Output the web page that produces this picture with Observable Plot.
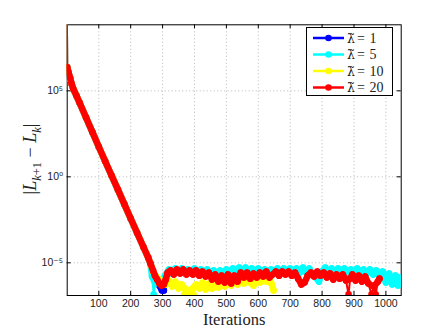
<!DOCTYPE html>
<html><head><meta charset="utf-8">
<script src="https://cdn.jsdelivr.net/npm/d3@7"></script>
<script src="https://cdn.jsdelivr.net/npm/@observablehq/plot@0.6"></script>
<style>
body{margin:0;background:#fff;}
#wrap{position:relative;width:442px;height:332px;overflow:hidden;}
#legend{position:absolute;left:306px;top:27px;}
</style></head>
<body><div id="wrap"><svg id="legend" width="88" height="70"></svg></div>
<script>
// ---- data ----
const xTicks = [100, 200, 300, 400, 500, 600, 700, 800, 900, 1000];
const yTicks = [1e-5, 1, 1e5];
const yTickLabels = ["10\u207B\u2075", "10\u2070", "10\u2075"];
const seriesSymbol = "\u03BB\u0303";
const seriesLambda = ["1", "5", "10", "20"];
const seriesColors = ["#0000ff", "#00ffff", "#ffff00", "#ff0000"];

// shared descent (all four runs overlap here)
const descentIter  = [0, 1, 5, 10, 15, 20, 30, 40, 60, 80, 100, 120, 140, 160, 180, 200, 220, 240, 255, 262];
const descentValue = [1e10, 2.3e6, 1.2e6, 5.6e5, 2.5e5, 1.3e5, 5.2e4, 2e4, 2.8e3, 400, 56, 8, 1.2, 0.18, 0.026, 3.8e-3, 5.6e-4, 8.3e-5, 2e-5, 9.1e-6];

const blueIter  = [270, 280, 290, 298, 304];
const blueValue = [2.7e-6, 1.07e-6, 4.8e-7, 2.5e-7, 2.5e-7];

const cyanIter  = [267, 272, 277, 284, 292, 300, 310,
  320, 330, 340, 350, 360, 370, 380, 390, 400, 410, 420, 430, 440, 450, 460, 470, 480, 490, 500,
  510, 520, 530, 540, 550, 560, 570, 580, 590, 600, 610, 620, 630, 640, 650, 660, 670, 680, 690, 700,
  710, 720, 730, 740, 750, 760, 770, 780, 790, 800, 810, 820, 830, 840, 850, 860, 870, 880, 890, 900,
  910, 920, 930, 940, 950, 960, 970, 980, 990, 1000, 1010, 1020, 1030, 1038, 1044, 1048];
const cyanValue = [1.6e-6, 1.5e-7, 6.3e-7, 1.07e-6, 6.3e-7, 1.07e-6, 2.1e-6,
  4.1e-6, 2.4e-6, 4.7e-6, 2.7e-6, 4.7e-6, 2.4e-6, 4.1e-6, 2.7e-6, 4.7e-6, 2.4e-6, 4.1e-6, 2.1e-6, 4.1e-6, 2.1e-6, 3.6e-6, 1.8e-6, 3.6e-6, 1.8e-6, 4.1e-6,
  2.1e-6, 4.7e-6, 2.4e-6, 5.3e-6, 2.7e-6, 5.3e-6, 2.7e-6, 4.7e-6, 2.4e-6, 4.7e-6, 2.7e-6, 4.1e-6, 2.4e-6, 4.1e-6, 2.7e-6, 4.7e-6, 2.7e-6, 4.7e-6, 2.7e-6, 4.7e-6,
  2.4e-6, 4.7e-6, 2.7e-6, 5.3e-6, 2.7e-6, 4.7e-6, 2.1e-6, 1.4e-6, 8.1e-7, 3.1e-6, 5.3e-6, 2.7e-6, 4.7e-6, 2.4e-6, 4.7e-6, 2.7e-6, 4.7e-6, 2.4e-6, 4.1e-6, 2.4e-6,
  4.7e-6, 2.7e-6, 4.1e-6, 2.4e-6, 4.1e-6, 2.1e-6, 3.6e-6, 1.8e-6, 3.1e-6, 7.1e-7, 2.4e-6, 5.5e-7, 1.8e-6, 4.8e-7, 1.4e-6, 6.3e-7];

const yellowIter  = [270, 280, 290, 300, 310, 320, 330, 340, 350, 360, 368, 375, 382, 390, 397, 405, 415, 425, 435, 445,
  455, 465, 475, 485, 495, 505, 515, 525, 535, 545, 555, 565, 575, 585, 595, 605, 615, 625, 635, 641, 648];
const yellowValue = [3.1e-6, 1.6e-6, 1.07e-6, 8.1e-7, 5.5e-7, 9.3e-7, 4.2e-7, 8.1e-7, 3.2e-7, 5.5e-7, 1.5e-7, 2.5e-7, 1.5e-7, 2.8e-7, 1.5e-7, 5.5e-7, 3.2e-7, 7.1e-7, 2.8e-7, 6.3e-7,
  3.2e-7, 8.1e-7, 3.7e-7, 9.3e-7, 4.2e-7, 1.07e-6, 4.8e-7, 1.07e-6, 5.5e-7, 1.4e-6, 6.3e-7, 1.6e-6, 7.1e-7, 4.8e-7, 1.2e-6, 7.1e-7, 1.6e-6, 8.1e-7, 1.4e-6, 6.3e-7, 2.5e-7];

const redIter  = [270, 276, 283, 290, 297, 304, 310, 316,
  325, 335, 345, 355, 365, 375, 385, 395, 405, 415, 425, 435, 445, 455, 465, 475, 485, 495, 505, 515, 525, 535,
  545, 555, 565, 575, 585, 595, 605, 615, 625, 635, 645, 655, 665, 675, 685, 695, 705, 715, 725, 735, 745, 755,
  765, 775, 785, 795, 805, 815, 825, 835, 845, 855, 865, 875, 883, 888, 895, 905, 915, 925, 935, 945, 955, 962, 968, 975, 980];
const redValue = [3.6e-6, 1.8e-6, 1.07e-6, 6.3e-7, 4.8e-7, 5.5e-7, 1.07e-6, 2.7e-6,
  3.6e-6, 2.1e-6, 4.1e-6, 2.4e-6, 4.1e-6, 2.1e-6, 3.6e-6, 2.1e-6, 3.6e-6, 1.8e-6, 3.1e-6, 1.6e-6, 2.7e-6, 1.07e-6, 2.1e-6, 8.1e-7, 1.8e-6, 7.1e-7, 2.1e-6, 6.3e-7, 1.8e-6, 8.1e-7,
  2.7e-6, 1.4e-6, 2.7e-6, 1.2e-6, 2.4e-6, 1.4e-6, 2.7e-6, 1.6e-6, 3.1e-6, 1.4e-6, 2.1e-6, 3.1e-6, 1.8e-6, 3.1e-6, 2.1e-6, 3.1e-6, 1.8e-6, 2.7e-6, 1.2e-6, 5.5e-7, 7.1e-7, 1.8e-6,
  2.7e-6, 1.6e-6, 3.1e-6, 1.8e-6, 2.7e-6, 1.4e-6, 2.4e-6, 1.07e-6, 2.1e-6, 1.2e-6, 2.1e-6, 9.3e-7, 1.5e-7, 1.2e-6, 2.1e-6, 9.3e-7, 1.8e-6, 8.1e-7, 1.6e-6, 6.3e-7, 1.5e-7, 4.2e-7, 1.5e-7, 8.1e-7, 1.2e-6];

// ---- build tables ----
function build(iters, vals) {
  const rows = descentIter.map((it, i) => ({iter: it, v: descentValue[i]}));
  iters.forEach((it, i) => rows.push({iter: it, v: vals[i]}));
  return rows;
}
const series = [
  build(blueIter, blueValue),
  build(cyanIter, cyanValue),
  build(yellowIter, yellowValue),
  build(redIter, redValue)
];

const xDom = [1, 1048];
const yDom = [1.26e-7, 6.9e8];
const tickK = 1.71;      // inward tick length on the log axis
const tickX = 12.5;      // inward tick length on the x axis

const marks = [
  Plot.gridX(xTicks, {stroke: "#b8b8b8", strokeOpacity: 1, strokeDasharray: "1,2.5"}),
  Plot.gridY(yTicks, {stroke: "#b8b8b8", strokeOpacity: 1, strokeDasharray: "1,2.5"}),
  Plot.axisX(xTicks, {tickSize: 0, tickPadding: 4, label: null, fill: "#222", tickFormat: d => String(d)}),
  Plot.axisY(yTicks, {tickSize: 0, tickPadding: 4, label: null, fill: "#222",
    tickFormat: d => yTickLabels[yTicks.indexOf(d)]}),
  Plot.ruleX(xTicks, {y1: () => yDom[0], y2: () => yDom[0] * tickK, stroke: "#000"}),
  Plot.ruleX(xTicks, {y1: () => yDom[1] / tickK, y2: () => yDom[1], stroke: "#000"}),
  Plot.ruleY(yTicks, {x1: () => xDom[0], x2: () => xDom[0] + tickX, stroke: "#000"}),
  Plot.ruleY(yTicks, {x1: () => xDom[1] - tickX, x2: () => xDom[1], stroke: "#000"}),
  Plot.frame({stroke: "#000"})
];
series.forEach((rows, i) => {
  const c = seriesColors[i];
  marks.push(Plot.line(rows.filter(d => d.v > 1.6e-7 && d.iter >= 1), {x: "iter", y: "v", stroke: c, strokeWidth: 6.5, clip: true}));
  marks.push(Plot.line(rows, {x: "iter", y: "v", stroke: c, strokeWidth: 2, clip: true}));
  marks.push(Plot.dot(rows.filter(d => d.iter >= 1), {x: "iter", y: "v", r: 3.3, fill: c, stroke: "none", clip: true}));
});
marks.push(
  Plot.text(["Iterations"], {frameAnchor: "bottom", lineAnchor: "middle", dy: 24.5, fontFamily: "Liberation Serif, serif", fontSize: 16.5, fill: "#222"})
);

const chart = Plot.plot({
  width: 442, height: 332,
  marginLeft: 66.7, marginRight: 41.3, marginTop: 24.3, marginBottom: 37,
  style: {fontFamily: "Liberation Sans, Arial, DejaVu Sans, sans-serif", fontSize: "10.5px", background: "#fff", overflow: "visible"},
  x: {domain: xDom},
  y: {type: "log", domain: yDom},
  marks
});
const wrap = document.getElementById("wrap");
wrap.insertBefore(chart, wrap.firstChild);

// y-axis label with subscripts
const svg = d3.select(chart);
const t = svg.append("text").attr("transform", "translate(36,159) rotate(-90)")
  .attr("text-anchor", "middle").attr("font-family", "Liberation Serif, serif")
  .attr("font-size", 18).attr("fill", "#222");
t.append("tspan").text("|");
t.append("tspan").attr("font-style", "italic").text("L");
t.append("tspan").attr("font-size", 12.5).attr("font-style", "italic").attr("dy", 4.5).text("k");
t.append("tspan").attr("font-size", 12.5).text("+1");
t.append("tspan").attr("dy", -4.5).text(" \u2212 ");
t.append("tspan").attr("font-style", "italic").text("L");
t.append("tspan").attr("font-size", 12.5).attr("font-style", "italic").attr("dy", 4.5).text("k");
t.append("tspan").attr("dy", -4.5).text("|");

// legend
const lg = d3.select("#legend");
lg.append("rect").attr("x", 0.5).attr("y", 0.5).attr("width", 86).attr("height", 68)
  .attr("fill", "#fff").attr("stroke", "#000");
seriesLambda.forEach((val, i) => {
  const y = 11 + i * 16.5;
  const base = y + 4.5;
  lg.append("line").attr("x1", 7).attr("x2", 38).attr("y1", y).attr("y2", y)
    .attr("stroke", seriesColors[i]).attr("stroke-width", 2.5);
  lg.append("circle").attr("cx", 22.5).attr("cy", y).attr("r", 3.3).attr("fill", seriesColors[i]);
  const tx = lg.append("text").attr("x", 41).attr("y", base)
    .attr("font-family", "Liberation Serif, serif").attr("font-size", 14).attr("fill", "#222");
  tx.append("tspan").attr("font-family", "DejaVu Serif, serif").attr("font-size", 12.5).text(seriesSymbol);
  tx.append("tspan").attr("x", 51).text("=");
  tx.append("tspan").attr("x", 63.5).text(val);
});
</script></body></html>
